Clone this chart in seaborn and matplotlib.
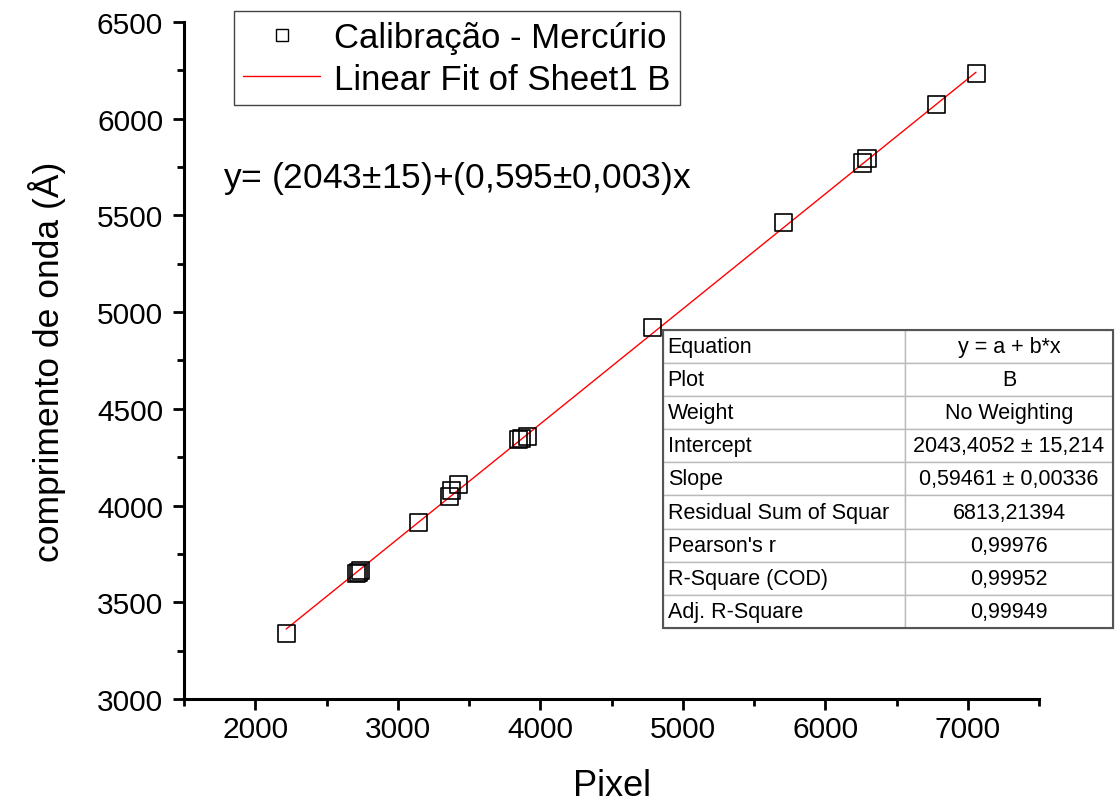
import numpy as np
import pandas as pd
import matplotlib
matplotlib.use("Agg")
import matplotlib.pyplot as plt
from matplotlib.lines import Line2D
from matplotlib.ticker import MultipleLocator
from matplotlib.patches import Rectangle
import seaborn as sns

# ---- data ----
pixel = [2217, 2710, 2725, 2740, 3143, 3365, 3380, 3425, 3850, 3870, 3910,
         4785, 5704, 6258, 6293, 6784, 7058]
wavelength = [3341, 3650, 3655, 3663, 3910, 4047, 4077, 4108, 4339, 4347, 4358,
              4918, 5461, 5771, 5792, 6071, 6232]
intercept = 2043.4052
slope = 0.59461

table_labels = ["Equation", "Plot", "Weight", "Intercept", "Slope",
                "Residual Sum of Squar", "Pearson's r", "R-Square (COD)", "Adj. R-Square"]
table_values = ["y = a + b*x", "B", "No Weighting", "2043,4052 ± 15,214",
                "0,59461 ± 0,00336", "6813,21394", "0,99976", "0,99952", "0,99949"]

series_label = "Calibração - Mercúrio"
fit_label = "Linear Fit of Sheet1 B"
equation_text = "y= (2043$\\pm$15)+(0,595$\\pm$0,003)x"

df = pd.DataFrame({"Pixel": pixel, "wl": wavelength})
xfit = np.array([min(pixel), max(pixel)])
fit_df = pd.DataFrame({"Pixel": xfit, "wl": intercept + slope * xfit})

sns.set_theme(style="ticks")
plt.rcParams["font.family"] = ["Liberation Sans", "DejaVu Sans"]
plt.rcParams["mathtext.fontset"] = "custom"
plt.rcParams["mathtext.rm"] = "Liberation Sans"
plt.rcParams["text.color"] = "black"
plt.rcParams["axes.labelcolor"] = "black"
plt.rcParams["xtick.color"] = "black"
plt.rcParams["ytick.color"] = "black"

fig = plt.figure(figsize=(11.16, 8.04), dpi=100)
ax = fig.add_axes([0.1649, 0.1294, 0.7661, 0.842])

sns.lineplot(data=fit_df, x="Pixel", y="wl", color="red", linewidth=1.0, ax=ax, zorder=2)
sns.scatterplot(data=df, x="Pixel", y="wl", marker="s", s=150, facecolors="none",
                edgecolors="black", linewidth=1.2, ax=ax, zorder=3)

ax.set_xlim(1500, 7500)
ax.set_ylim(3000, 6500)
ax.xaxis.set_minor_locator(MultipleLocator(500))
ax.yaxis.set_major_locator(MultipleLocator(500))
ax.yaxis.set_minor_locator(MultipleLocator(250))
ax.set_xticks([2000, 3000, 4000, 5000, 6000, 7000])
ax.tick_params(axis="both", which="major", direction="out", length=8, width=2,
               labelsize=21.5, color="black", labelcolor="black")
ax.tick_params(axis="y", which="major", pad=7)
ax.tick_params(axis="both", which="minor", direction="out", length=5, width=2, color="black")
for s in ["top", "right"]:
    ax.spines[s].set_visible(False)
for s in ["left", "bottom"]:
    ax.spines[s].set_linewidth(2.2)
    ax.spines[s].set_color("black")

ax.set_xlabel("Pixel", fontsize=26, labelpad=18, color="black")
ax.set_ylabel("comprimento de onda (Å)", fontsize=25.5, labelpad=22, color="black")

handles = [
    Line2D([], [], marker="s", linestyle="none", markerfacecolor="none",
           markeredgecolor="black", markersize=9, markeredgewidth=1.0),
    Line2D([], [], color="red", linewidth=1.0),
]
leg = ax.legend(handles, [series_label, fit_label], loc="upper left",
                bbox_to_anchor=(0.058, 1.016), fontsize=25, frameon=True,
                fancybox=False, framealpha=1, edgecolor="#444444",
                handlelength=2.2, handletextpad=0.4, borderpad=0.28,
                labelspacing=0.25, borderaxespad=0)
leg.get_frame().set_linewidth(1.0)
for t in leg.get_texts():
    t.set_color("black")

ax.text(0.045, 0.77, equation_text, transform=ax.transAxes, fontsize=25.5,
        ha="left", va="center", color="black")

cell_text = [[a, b] for a, b in zip(table_labels, table_values)]
tbl = ax.table(cellText=cell_text, bbox=[0.560, 0.105, 0.5266, 0.440],
               colWidths=[0.538, 0.462], cellLoc="left")
tbl.auto_set_font_size(False)
tbl.set_fontsize(15.5)
tbl.set_clip_on(False)
for (r, c), cell in tbl.get_celld().items():
    cell.set_edgecolor("#bbbbbb")
    cell.set_linewidth(1.0)
    cell.set_facecolor("white")
    cell.get_text().set_color("black")
    if c == 1:
        cell.get_text().set_ha("center")
        cell._loc = "center"
    else:
        cell.PAD = 0.02
tbl.set_zorder(5)
ax.add_patch(Rectangle((0.560, 0.105), 0.5266, 0.440, transform=ax.transAxes,
                       fill=False, edgecolor="#555555", linewidth=1.5,
                       clip_on=False, zorder=6))

fig.savefig("out.png", dpi=100)
